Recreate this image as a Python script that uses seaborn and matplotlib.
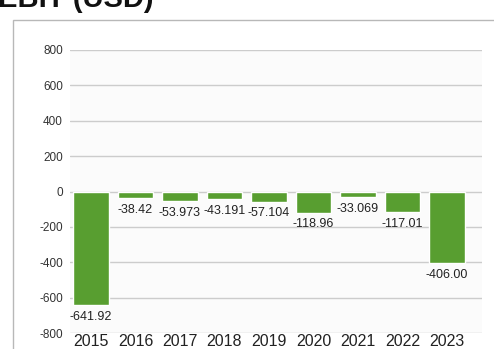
import matplotlib
matplotlib.use("Agg")
import matplotlib.pyplot as plt
from matplotlib.patches import Rectangle
import pandas as pd
import seaborn as sns

years = ["2015", "2016", "2017", "2018", "2019", "2020", "2021", "2022", "2023"]
ebit = [-641.92, -38.42, -53.973, -43.191, -57.104, -118.96, -33.069, -117.01, -406.00]
value_labels = ["-641.92", "-38.42", "-53.973", "-43.191", "-57.104",
                "-118.96", "-33.069", "-117.01", "-406.00"]
y_ticks = [800, 600, 400, 200, 0, -200, -400, -600, -800]

sns.set_theme(style="white")
plt.rcParams["font.family"] = ["Liberation Sans", "DejaVu Sans"]

df = pd.DataFrame({"year": years, "ebit": ebit})

W, H = 494, 349
fig = plt.figure(figsize=(W / 100, H / 100), dpi=100)
fig.patch.set_facecolor("white")

# outer panel frame
fig.patches.append(Rectangle((13 / W, -0.1), 1.2, (H - 20) / H + 0.1,
                             transform=fig.transFigure, fill=False,
                             edgecolor="#b8b8b8", linewidth=1.0))

# title, partially cropped at the top edge
fig.text(-0.004, 1 - 7 / H, "EBIT (USD)", fontsize=21, fontweight="bold",
         color="#111111", ha="left", va="baseline")

ax = fig.add_axes([70 / W, 16 / H, 412 / W, 283 / H])
ax.set_facecolor("#fbfbfb")

sns.barplot(data=df, x="year", y="ebit", color="#589e30", width=0.8,
            saturation=1, ax=ax, zorder=3)

for i, (v, lab) in enumerate(zip(ebit, value_labels)):
    ax.annotate(lab, (i, v), xytext=(0, -4), textcoords="offset points",
                ha="center", va="top", fontsize=9, color="#222222")

ax.set_ylim(-800, 800)
ax.set_xlim(-0.472, 8.787)
ax.set_yticks(y_ticks)
ax.set_yticklabels([str(t) for t in y_ticks])
ax.grid(axis="y", color="#cccccc", linewidth=1.0, zorder=0)
ax.grid(axis="x", visible=False)
for s in ax.spines.values():
    s.set_visible(False)
ax.tick_params(axis="y", length=0, pad=5, labelsize=8.5, labelcolor="#333333")
ax.tick_params(axis="x", length=0, pad=1, labelsize=11.5, labelcolor="#222222")
ax.set_xlabel("")
ax.set_ylabel("")

fig.savefig("out.png", dpi=100, facecolor="white")
